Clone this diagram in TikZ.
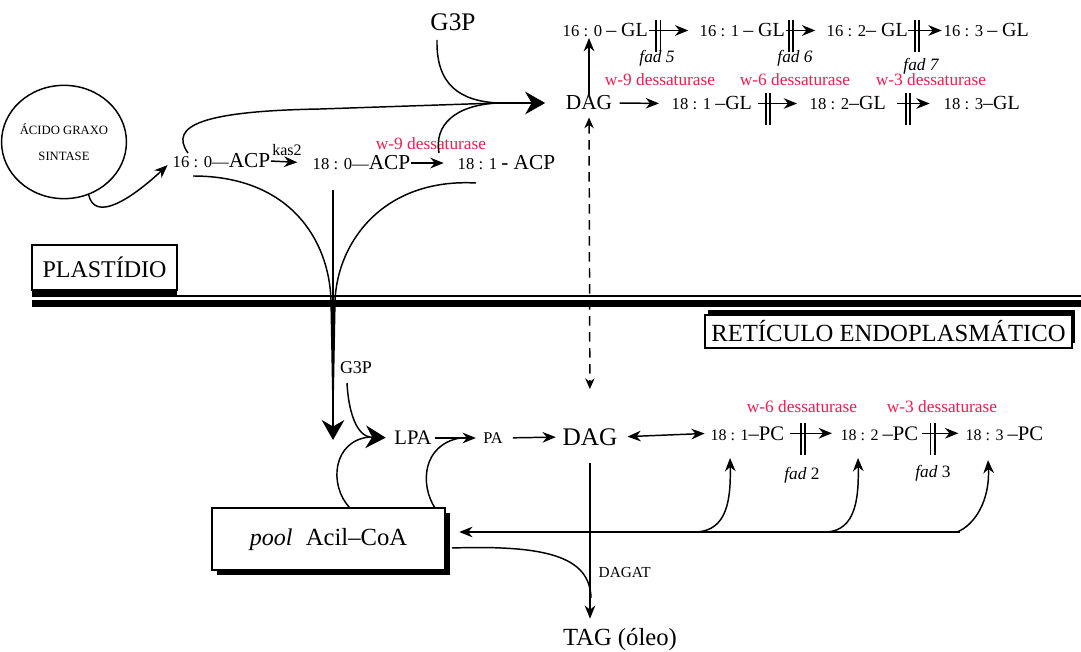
\documentclass[tikz,border=0pt]{standalone}
\usepackage{fontspec}
\setmainfont{Liberation Serif}
\usetikzlibrary{arrows.meta,shapes.geometric,shadows,calc}
\definecolor{dessred}{RGB}{235,30,80}
\newcommand{\fsz}[1]{\fontsize{#1}{#1}\selectfont}
\newcommand{\dbar}{\rule{1.2pt}{24pt}\hspace{2pt}\rule{1.2pt}{24pt}}

\begin{document}
\begin{tikzpicture}[x=0.75pt,y=-0.75pt]
        \tikzset{arr/.style={-{Stealth[length=10pt, width=8pt]}},
                 bigarr/.style={-{Stealth[length=15pt, width=17pt]}},
                 lbl/.style={inner sep=0pt, anchor=base west},
                 enz/.style={inner sep=0pt, text=dessred, font=\fsz{13}},
                 fad/.style={inner sep=0pt, font=\fsz{13}\itshape},
                 barpair/.style={inner sep=0pt, yshift=-4pt},
                 membox/.style={draw, line width=1.1pt, fill=white, inner sep=0pt}}
        \useasboundingbox (0,0) rectangle (1081,652);
        \tikzset{every path/.append style={line width=1.1pt}}

        % membrane
        \draw[line width=1pt] (32,296) -- (1081,296);
        \draw[line width=5.2pt] (32,303.5) -- (1081,303.5);
        \node[membox, minimum width=109pt, minimum height=34pt, font=\fsz{18},
              drop shadow={shadow xshift=0pt, shadow yshift=-3.8pt, fill=black, opacity=1}]
              (plast) at (104.5,267.5) {PLASTÍDIO};
        \node[membox, minimum width=275pt, minimum height=25pt, font=\fsz{18.5},
              drop shadow={shadow xshift=2pt, shadow yshift=3.8pt, fill=black, opacity=1}]
              (ret) at (888.5,331.5) {RETÍCULO ENDOPLASMÁTICO};

        % plastid: ACP pool
        \node[draw, ellipse, minimum width=78pt, minimum height=85pt, inner sep=0pt,
              align=center, font=\fsz{9.5}] (fas) at (64,142) {ÁCIDO GRAXO\\[10pt]SINTASE};
        \node[lbl] (acp160) at (172,168) {\fsz{12.5}16 : 0—{\fsz{16}ACP}};
        \node[lbl] (acp180) at (312,170) {\fsz{12.5}18 : 0—{\fsz{16}ACP}};
        \node[lbl] (acp181) at (457,170) {\fsz{12.5}18 : 1 {\fsz{16}- ACP}};
        \node[inner sep=0pt, font=\fsz{12}] (kas) at (287,150) {kas2};
        \node[enz] (w9a) at (431,144) {w-9 dessaturase};
        \draw[arr, shorten >=4.5pt] (fas.-65) .. controls (95,222) and (130,200) .. (acp160.west);
        \draw[arr, shorten >=11pt] (acp160.east) -- (acp180.west);
        \draw[arr, shorten >=10pt] (acp180.east) -- (acp181.west);

        % into plastid DAG
        \node[inner sep=0pt, font=\fsz{19}] (g3pT) at (453,22) {G3P};
        \node[inner sep=0pt, font=\fsz{16}] (dagT) at (589,103) {DAG};
        \coordinate (j1) at (498,103);
        \coordinate (c1) at (188,153);
        \coordinate (c2) at (437,40);
        \coordinate (c3) at (439,153);
        \draw (c1) .. controls (168,125) and (205,111) .. (320,109) -- (j1);
        \draw (c2) .. controls (436,85) and (460,101) .. (j1);
        \draw (c3) .. controls (434,125) and (455,105) .. (j1);
        \draw[bigarr, shorten >=15pt] (j1) -- (dagT.west);

        % export to the ER
        \coordinate (d1) at (193,176);
        \coordinate (d2) at (476,183);
        \coordinate (vtop) at (333,190);
        \coordinate (vbot) at (333,440);
        \draw (d1) .. controls (290,176) and (329,240) .. (331,300) .. controls (332,350) .. (333,405);
        \draw (d2) .. controls (385,178) and (338,240) .. (335,300) .. controls (334,350) .. (333,405);
        \draw[bigarr] (vtop) -- (vbot);

        % GL rows
        \node[lbl] (gl160) at (562,37) {\fsz{12.5}16 : 0 {\fsz{15}– GL}};
        \node[lbl] (gl161) at (699,37) {\fsz{12.5}16 : 1 {\fsz{15}– GL}};
        \node[lbl] (gl162) at (826,37) {\fsz{12.5}16 : 2{\fsz{15}– GL}};
        \node[lbl] (gl163) at (943,37) {\fsz{12.5}16 : 3 {\fsz{15}– GL}};
        \draw[arr, shorten >=8pt] (gl160.east) -- (gl161.west) node[barpair, pos=0.19] (b1) {\dbar};
        \draw[arr, shorten >=8pt] (gl161.east) -- (gl162.west) node[barpair, pos=0.13] (b2) {\dbar};
        \draw[arr, shorten >=1pt] (gl162.east) -- (gl163.west) node[barpair, pos=0.25] (b3) {\dbar};
        \node[fad] (fad5) at (657,58) {fad 5};
        \node[fad] (fad6) at (795,58) {fad 6};
        \node[fad] (fad7) at (921,66) {fad 7};
        \node[enz] (w9b) at (660,80) {w-9 dessaturase};
        \node[enz] (w6b) at (795,80) {w-6 dessaturase};
        \node[enz] (w3b) at (931,80) {w-3 dessaturase};
        \node[lbl] (gl181) at (671,110) {\fsz{12.5}18 : 1 {\fsz{15}–GL}};
        \node[lbl] (gl182) at (809,110) {\fsz{12.5}18 : 2{\fsz{15}–GL}};
        \node[lbl] (gl183) at (943,110) {\fsz{12.5}18 : 3{\fsz{15}–GL}};
        \draw[arr, shorten <=5pt, shorten >=9pt] (dagT.east) -- (gl181.west);
        \draw[arr, shorten <=4pt, shorten >=9pt] (gl181.east) -- (gl182.west) node[barpair, pos=0.27] (b4) {\dbar};
        \draw[arr, shorten <=8pt, shorten >=10pt] (gl182.east) -- (gl183.west) node[barpair, pos=0.38] (b5) {\dbar};
        \draw[arr] (dagT.north) -- (dagT.north |- gl160.south);

        % plastid <-> ER exchange
        \node[inner sep=0pt, font=\fsz{19}] (dagB) at (590,437) {DAG};
        \draw[dashed, dash pattern=on 7pt off 5pt,
              {Stealth[length=8pt, width=7pt]}-{Stealth[length=8pt, width=7pt]},
              shorten <=5pt, shorten >=29pt] (dagT.south) -- (dagB.north);

        % ER: Kennedy pathway
        \node[inner sep=0pt, font=\fsz{13.5}] (g3pB) at (356,368) {G3P};
        \node[inner sep=0pt, font=\fsz{15.5}] (lpa) at (413,438) {LPA};
        \node[inner sep=0pt, font=\fsz{12.3}] (pa) at (493,438) {PA};
        \node[draw, line width=1.1pt, fill=white, minimum width=175pt, minimum height=46.5pt, inner sep=0pt,
              drop shadow={shadow xshift=3.8pt, shadow yshift=-3.8pt, fill=black, opacity=1}]
              (pool) at (328.5,539) {{\fsz{18}\itshape pool}\hspace{10pt}{\fsz{18.5}Acil–CoA}};
        \coordinate (jL) at (370,437);
        \coordinate (g3pC) at (347,383);
        \coordinate (pl) at (350,508);
        \coordinate (pr) at (435,508);
        \coordinate (jP) at (460,438);
        \draw (g3pC) .. controls (349,420) and (360,436) .. (jL);
        \draw (pl) .. controls (328,485) and (333,440) .. (jL);
        \draw[bigarr, shorten >=6pt] (jL) -- (lpa.west);
        \draw[arr, shorten <=2pt, shorten >=5pt] (lpa.east) -- (pa.west);
        \draw (pr) .. controls (420,485) and (422,445) .. (jP);
        \draw[arr, shorten <=7pt, shorten >=4.5pt] (pa.east) -- (dagB.west);

        % PC desaturation
        \node[lbl] (pc181) at (710,440) {\fsz{12}18 : 1{\fsz{15.5}–PC}};
        \node[lbl] (pc182) at (840,440) {\fsz{12}18 : 2 {\fsz{15.5}–PC}};
        \node[lbl] (pc183) at (965,440) {\fsz{12}18 : 3 {\fsz{15.5}–PC}};
        \draw[{Stealth[length=10pt, width=8pt]}-{Stealth[length=10pt, width=8pt]},
              shorten <=7pt, shorten >=4pt] (dagB.east) -- (pc181.west);
        \draw[arr, shorten <=4pt, shorten >=6pt] (pc181.east) -- (pc182.west) node[barpair, pos=0.33] (b6) {\dbar};
        \draw[arr, shorten <=2pt, shorten >=5pt] (pc182.east) -- (pc183.west) node[barpair, pos=0.3] (b7) {\dbar};
        \node[enz] (w6c) at (802,407) {w-6 dessaturase};
        \node[enz] (w3c) at (942,407) {w-3 dessaturase};
        \node[inner sep=0pt, font=\fsz{13}] (fad2) at (802,475) {\textit{fad} 2};
        \node[inner sep=0pt, font=\fsz{13}] (fad3) at (933,473) {\textit{fad} 3};

        % return to the acyl-CoA pool
        \coordinate (hr) at (960,532);
        \coordinate (s1) at (697,532);
        \coordinate (s2) at (827,532);
        \coordinate (s3) at (957,532);
        \coordinate (t1) at (730,458);
        \coordinate (t2) at (858,458);
        \coordinate (t3) at (988,460);
        \draw[arr, shorten >=10pt] (hr) -- (pool.east |- hr);
        \draw[arr] (s1) .. controls (727,530) and (731,500) .. (t1);
        \draw[arr] (s2) .. controls (855,530) and (859,500) .. (t2);
        \draw[arr] (s3) .. controls (975,525) and (990,500) .. (t3);

        % oil
        \node[inner sep=0pt, font=\fsz{18.5}] (tag) at (620,640) {TAG (óleo)};
        \node[inner sep=0pt, font=\fsz{11.5}, anchor=west] (dagat) at (598,572) {DAGAT};
        \coordinate (pe) at (452,548);
        \coordinate (jd) at (591,598);
        \draw (pe) .. controls (545,545) and (590,556) .. (jd);
        \draw[arr, shorten <=12.5pt, shorten >=7pt] (dagB.south) -- (dagB.south |- tag.north);
\end{tikzpicture}
\end{document}
